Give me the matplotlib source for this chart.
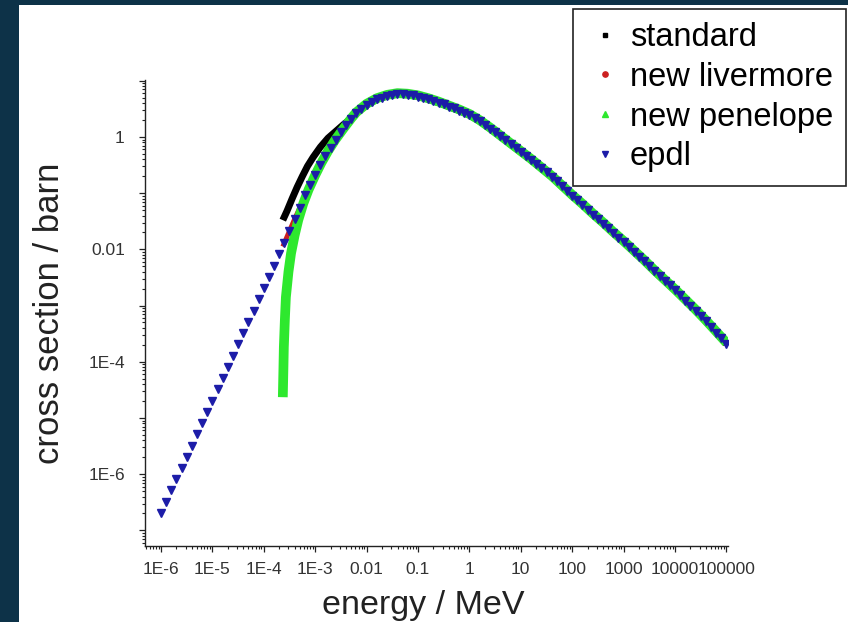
import numpy as np
import matplotlib
matplotlib.use("Agg")
import matplotlib.pyplot as plt
from matplotlib.patches import Rectangle
from matplotlib.lines import Line2D
from matplotlib.ticker import FixedLocator, LogLocator, NullFormatter, FuncFormatter

plt.rcParams['font.family'] = ['Liberation Sans', 'DejaVu Sans']

# epdl: log10(energy / MeV) and log10(cross section / barn), 10 points per decade
epdl_log_e = [
    -6.0, -5.9, -5.8, -5.7, -5.6, -5.5, -5.4, -5.3, -5.2, -5.1,
    -5.0, -4.9, -4.8, -4.7, -4.6, -4.5, -4.4, -4.3, -4.2, -4.1,
    -4.0, -3.9, -3.8, -3.7, -3.6, -3.5, -3.4, -3.3, -3.2, -3.1,
    -3.0, -2.9, -2.8, -2.7, -2.6, -2.5, -2.4, -2.3, -2.2, -2.1,
    -2.0, -1.9, -1.8, -1.7, -1.6, -1.5, -1.4, -1.3, -1.2, -1.1,
    -1.0, -0.9, -0.8, -0.7, -0.6, -0.5, -0.4, -0.3, -0.2, -0.1,
    0.0, 0.1, 0.2, 0.3, 0.4, 0.5, 0.6, 0.7, 0.8, 0.9,
    1.0, 1.1, 1.2, 1.3, 1.4, 1.5, 1.6, 1.7, 1.8, 1.9,
    2.0, 2.1, 2.2, 2.3, 2.4, 2.5, 2.6, 2.7, 2.8, 2.9,
    3.0, 3.1, 3.2, 3.3, 3.4, 3.5, 3.6, 3.7, 3.8, 3.9,
    4.0, 4.1, 4.2, 4.3, 4.4, 4.5, 4.6, 4.7, 4.8, 4.9,
    5.0,
]
epdl_log_xs = [
    -6.69, -6.49, -6.29, -6.09, -5.89, -5.69, -5.49, -5.29, -5.09, -4.89,
    -4.69, -4.49, -4.29, -4.09, -3.89, -3.69, -3.49, -3.29, -3.09, -2.89,
    -2.69, -2.49, -2.29, -2.09, -1.89, -1.67, -1.46, -1.26, -1.04, -0.85,
    -0.67, -0.50, -0.34, -0.19, -0.05, 0.09, 0.21, 0.32, 0.42, 0.50,
    0.57, 0.63, 0.67, 0.70, 0.73, 0.75, 0.76, 0.76, 0.75, 0.74,
    0.72, 0.70, 0.67, 0.64, 0.61, 0.58, 0.54, 0.51, 0.47, 0.43,
    0.39, 0.34, 0.28, 0.22, 0.15, 0.08, 0.01, -0.06, -0.13, -0.20,
    -0.27, -0.34, -0.41, -0.48, -0.56, -0.63, -0.71, -0.79, -0.88, -0.96,
    -1.05, -1.13, -1.21, -1.30, -1.38, -1.46, -1.54, -1.62, -1.71, -1.79,
    -1.87, -1.96, -2.04, -2.13, -2.21, -2.30, -2.39, -2.47, -2.56, -2.64,
    -2.73, -2.82, -2.91, -3.00, -3.09, -3.18, -3.28, -3.38, -3.48, -3.58,
    -3.68,
]

# standard
std_log_e = [-3.63, -3.55, -3.45, -3.35, -3.25, -3.15, -3.04, -2.9, -2.75, -2.6,
             -2.45, -2.3, -2.2,
             -2.0, -1.8, -1.6, -1.4, -1.2, -1.0, -0.8, -0.6, -0.4, -0.2,
             0.0, 0.2, 0.4, 0.6, 0.8, 1.0, 1.2, 1.4, 1.6, 1.8,
             2.0, 2.2, 2.4, 2.6, 2.8, 3.0, 3.2, 3.4, 3.6, 3.8,
             4.0, 4.2, 4.4, 4.6, 4.8, 5.0]
std_log_xs = [-1.48, -1.32, -1.10, -0.89, -0.70, -0.52, -0.36, -0.18, -0.02, 0.10,
              0.22, 0.33, 0.43,
              0.57, 0.67, 0.73, 0.76, 0.75, 0.72, 0.67, 0.61, 0.54, 0.47,
              0.39, 0.28, 0.15, 0.01, -0.13, -0.27, -0.41, -0.56, -0.71, -0.88,
              -1.05, -1.21, -1.38, -1.54, -1.71, -1.87, -2.04, -2.21, -2.39, -2.56,
              -2.73, -2.91, -3.09, -3.28, -3.48, -3.68]

# new livermore
liv_log_e = [-3.63, -3.5, -3.4, -3.3, -3.2, -3.1, -3.0, -2.8, -2.6, -2.4, -2.2,
             -2.0, -1.8, -1.6, -1.4, -1.2, -1.0, -0.8, -0.6, -0.4, -0.2,
             0.0, 0.2, 0.4, 0.6, 0.8, 1.0, 1.2, 1.4, 1.6, 1.8,
             2.0, 2.2, 2.4, 2.6, 2.8, 3.0, 3.2, 3.4, 3.6, 3.8,
             4.0, 4.2, 4.4, 4.6, 4.8, 5.0]
liv_log_xs = [-1.95, -1.67, -1.46, -1.26, -1.04, -0.85, -0.67, -0.34, -0.05, 0.21, 0.42,
              0.57, 0.67, 0.73, 0.76, 0.75, 0.72, 0.67, 0.61, 0.54, 0.47,
              0.39, 0.28, 0.15, 0.01, -0.13, -0.27, -0.41, -0.56, -0.71, -0.88,
              -1.05, -1.21, -1.38, -1.54, -1.71, -1.87, -2.04, -2.21, -2.39, -2.56,
              -2.73, -2.91, -3.09, -3.28, -3.48, -3.68]

# new penelope
pen_log_e = [-3.63, -3.62, -3.61, -3.59, -3.57, -3.52, -3.47, -3.40, -3.33, -3.23,
             -3.13, -3.0, -2.88, -2.75, -2.61, -2.45, -2.3, -2.2,
             -2.0, -1.8, -1.6, -1.4, -1.2, -1.0, -0.8, -0.6, -0.4, -0.2,
             0.0, 0.2, 0.4, 0.6, 0.8, 1.0, 1.2, 1.4, 1.6, 1.8,
             2.0, 2.2, 2.4, 2.6, 2.8, 3.0, 3.2, 3.4, 3.6, 3.8,
             4.0, 4.2, 4.4, 4.6, 4.8, 5.0]
pen_log_xs = [-4.63, -4.20, -3.74, -3.25, -2.85, -2.40, -2.07, -1.75, -1.48, -1.18,
              -0.94, -0.68, -0.46, -0.25, -0.05, 0.15, 0.33, 0.44,
              0.59, 0.69, 0.75, 0.78, 0.77, 0.74, 0.69, 0.63, 0.56, 0.49,
              0.41, 0.30, 0.17, 0.03, -0.11, -0.25, -0.39, -0.54, -0.69, -0.86,
              -1.03, -1.19, -1.36, -1.52, -1.69, -1.85, -2.02, -2.19, -2.37, -2.54,
              -2.71, -2.89, -3.07, -3.26, -3.46, -3.66]

x_ticks = [1e-6, 1e-5, 1e-4, 1e-3, 1e-2, 1e-1, 1, 10, 100, 1000, 10000, 100000]
x_tick_labels = ['1E-6', '1E-5', '1E-4', '1E-3', '0.01', '0.1', '1', '10', '100',
                 '1000', '10000', '100000']
y_ticks = [1e-7, 1e-6, 1e-5, 1e-4, 1e-3, 1e-2, 1e-1, 1, 10]
y_tick_labels = ['', '1E-6', '', '1E-4', '', '0.01', '', '1', '']

W, H = 848, 622
fig = plt.figure(figsize=(W / 100, H / 100), dpi=100)
fig.patch.set_facecolor('#0d3248')
fig.add_artist(Rectangle((19 / W, 0), 1 - 19 / W, (H - 5) / H, transform=fig.transFigure,
                         facecolor='white', edgecolor='none', zorder=-5))

ax = fig.add_axes([145 / W, 1 - 546 / H, (728 - 145) / W, (546 - 80) / H])
ax.set_facecolor('white')

def pw(v):
    return 10 ** np.array(v)

ax.plot(pw(std_log_e), pw(std_log_xs), color='black', lw=5, solid_capstyle='butt', zorder=2)
ax.plot(pw(liv_log_e), pw(liv_log_xs), color='#cc2020', lw=3.5, solid_capstyle='butt', zorder=3)
ax.plot(pw(pen_log_e), pw(pen_log_xs), color='#2ee82e', lw=7, solid_capstyle='butt', zorder=4)
ax.plot(pw(epdl_log_e), pw(epdl_log_xs), linestyle='none', marker='v', markersize=6.3,
        color='#1c1ca8', markeredgecolor='#1c1ca8', zorder=5)

ax.set_xscale('log')
ax.set_yscale('log')
ax.set_xlim(10 ** -6.311, 10 ** 5.031)
ax.set_ylim(10 ** -7.278, 10 ** 1.014)

ax.xaxis.set_major_locator(FixedLocator(x_ticks))
ax.xaxis.set_major_formatter(FuncFormatter(lambda v, p: x_tick_labels[p] if p is not None and p < len(x_tick_labels) else ''))
ax.xaxis.set_minor_locator(LogLocator(base=10, subs=np.arange(2, 10), numticks=200))
ax.xaxis.set_minor_formatter(NullFormatter())
ax.yaxis.set_major_locator(FixedLocator(y_ticks))
ax.yaxis.set_major_formatter(FuncFormatter(lambda v, p: y_tick_labels[p] if p is not None and p < len(y_tick_labels) else ''))
ax.yaxis.set_minor_locator(LogLocator(base=10, subs=np.arange(2, 10), numticks=200))
ax.yaxis.set_minor_formatter(NullFormatter())

for s in ['top', 'right']:
    ax.spines[s].set_visible(False)
for s in ['left', 'bottom']:
    ax.spines[s].set_linewidth(1.0)
    ax.spines[s].set_color('#222222')

ax.tick_params(which='major', direction='out', length=4.5, width=0.9, colors='#222222',
               labelsize=12.5, labelcolor='#333333')
ax.tick_params(which='minor', direction='out', length=2.5, width=0.8, colors='#222222')
ax.tick_params(axis='y', which='major', pad=10)
ax.tick_params(axis='x', which='major', pad=7)

fig.text(50 / W, 1 - 313 / H, 'cross section / barn', rotation=90, ha='center', va='center',
         fontsize=25, color='#222222')
fig.text(423 / W, 1 / H, 'energy / MeV', ha='center', va='bottom', fontsize=24.5, color='#222222')

handles = [
    Line2D([], [], linestyle='none', marker='s', markersize=3.5, color='black'),
    Line2D([], [], linestyle='none', marker='o', markersize=3.8, color='#cc2020'),
    Line2D([], [], linestyle='none', marker='^', markersize=4.5, color='#2ee82e'),
    Line2D([], [], linestyle='none', marker='v', markersize=4.5, color='#1c1ca8'),
]
labels = ['standard', 'new livermore', 'new penelope', 'epdl']
leg = fig.legend(handles, labels, loc='upper right', bbox_to_anchor=(846 / W, 1 - 9 / H),
                 fontsize=23.5, frameon=True, fancybox=False, framealpha=1, edgecolor='#222222',
                 borderpad=0.4, labelspacing=0.27, handlelength=1.2, handletextpad=0.15,
                 borderaxespad=0)
leg.get_frame().set_linewidth(1.2)

fig.savefig('out.png', dpi=100, facecolor=fig.get_facecolor())
